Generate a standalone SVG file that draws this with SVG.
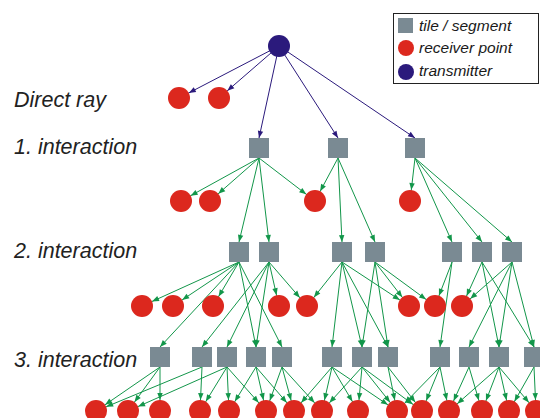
<svg xmlns="http://www.w3.org/2000/svg" width="540" height="418" viewBox="0 0 540 418">
<defs>
<style>
line{stroke-width:1}
.pc,.ps{stroke:#2b1a7c}
.gc,.gs{stroke:#12964a}
.pc{marker-end:url(#mpc)}
.ps{marker-end:url(#mps)}
.gc{marker-end:url(#mgc)}
.gs{marker-end:url(#mgs)}
.tile{fill:#7a8a93}
.rx{fill:#dc281e}
.tx{fill:#2b1a7c}
.lbl{font-family:"Liberation Sans",Arial,sans-serif;font-style:italic;font-size:21.5px;fill:#222}
.leg{font-family:"Liberation Sans",Arial,sans-serif;font-style:italic;font-size:15.5px;fill:#1a1a1a}
</style>
<marker id="mpc" markerUnits="userSpaceOnUse" markerWidth="20" markerHeight="20" refX="11" refY="0" orient="auto" overflow="visible"><path d="M0,0 L-7,-2.7 L-7,2.7 z" fill="#2b1a7c"/></marker>
<marker id="mps" markerUnits="userSpaceOnUse" markerWidth="20" markerHeight="20" refX="0" refY="0" orient="auto" overflow="visible"><path d="M0,0 L-7,-2.7 L-7,2.7 z" fill="#2b1a7c"/></marker>
<marker id="mgc" markerUnits="userSpaceOnUse" markerWidth="20" markerHeight="20" refX="11" refY="0" orient="auto" overflow="visible"><path d="M0,0 L-7,-2.7 L-7,2.7 z" fill="#12964a"/></marker>
<marker id="mgs" markerUnits="userSpaceOnUse" markerWidth="20" markerHeight="20" refX="0" refY="0" orient="auto" overflow="visible"><path d="M0,0 L-7,-2.7 L-7,2.7 z" fill="#12964a"/></marker>
</defs>
<rect width="540" height="418" fill="#fff"/>
<g id="labels">
<text class="lbl" x="14" y="107">Direct ray</text>
<text class="lbl" x="14" y="154">1. interaction</text>
<text class="lbl" x="14" y="258">2. interaction</text>
<text class="lbl" x="14" y="367">3. interaction</text>
</g>
<g id="legend">
<rect x="393.5" y="13.5" width="145" height="70" fill="#fff" stroke="#222" stroke-width="1"/>
<rect class="tile" x="398" y="18" width="15" height="15"/>
<circle class="rx" cx="406" cy="48" r="8"/>
<circle class="tx" cx="406" cy="72" r="8"/>
<text class="leg" x="419" y="31">tile / segment</text>
<text class="leg" x="419" y="53">receiver point</text>
<text class="leg" x="419" y="76">transmitter</text>
</g>
<g id="connectors">
<line class="pc" x1="279" y1="46" x2="179" y2="98"/>
<line class="pc" x1="279" y1="46" x2="219" y2="98"/>
<line class="ps" x1="279" y1="46" x2="259" y2="138"/>
<line class="ps" x1="279" y1="46" x2="338" y2="138"/>
<line class="ps" x1="279" y1="46" x2="415" y2="138"/>
<line class="gc" x1="259" y1="158" x2="181" y2="201"/>
<line class="gc" x1="259" y1="158" x2="210" y2="201"/>
<line class="gc" x1="259" y1="158" x2="315" y2="201"/>
<line class="gc" x1="338" y1="158" x2="315" y2="201"/>
<line class="gc" x1="415" y1="158" x2="410" y2="201"/>
<line class="gs" x1="259" y1="158" x2="239" y2="242"/>
<line class="gs" x1="259" y1="158" x2="269" y2="242"/>
<line class="gs" x1="338" y1="158" x2="342" y2="242"/>
<line class="gs" x1="338" y1="158" x2="375" y2="242"/>
<line class="gs" x1="415" y1="158" x2="452" y2="242"/>
<line class="gs" x1="415" y1="158" x2="482" y2="242"/>
<line class="gs" x1="415" y1="158" x2="512" y2="242"/>
<line class="gc" x1="239" y1="262" x2="142" y2="306"/>
<line class="gc" x1="239" y1="262" x2="173" y2="306"/>
<line class="gc" x1="239" y1="262" x2="213" y2="306"/>
<line class="gc" x1="269" y1="262" x2="279" y2="306"/>
<line class="gc" x1="269" y1="262" x2="307" y2="306"/>
<line class="gc" x1="342" y1="262" x2="307" y2="306"/>
<line class="gc" x1="342" y1="262" x2="409" y2="306"/>
<line class="gc" x1="375" y1="262" x2="409" y2="306"/>
<line class="gc" x1="375" y1="262" x2="435" y2="306"/>
<line class="gc" x1="452" y1="262" x2="435" y2="306"/>
<line class="gc" x1="482" y1="262" x2="462" y2="306"/>
<line class="gc" x1="512" y1="262" x2="462" y2="306"/>
<line class="gs" x1="239" y1="262" x2="160" y2="347"/>
<line class="gs" x1="239" y1="262" x2="256" y2="347"/>
<line class="gs" x1="239" y1="262" x2="282" y2="347"/>
<line class="gs" x1="269" y1="262" x2="202" y2="347"/>
<line class="gs" x1="269" y1="262" x2="227" y2="347"/>
<line class="gs" x1="269" y1="262" x2="256" y2="347"/>
<line class="gs" x1="342" y1="262" x2="332" y2="347"/>
<line class="gs" x1="342" y1="262" x2="362" y2="347"/>
<line class="gs" x1="342" y1="262" x2="388" y2="347"/>
<line class="gs" x1="375" y1="262" x2="362" y2="347"/>
<line class="gs" x1="375" y1="262" x2="388" y2="347"/>
<line class="gs" x1="452" y1="262" x2="440" y2="347"/>
<line class="gs" x1="482" y1="262" x2="499" y2="347"/>
<line class="gs" x1="482" y1="262" x2="534" y2="347"/>
<line class="gs" x1="512" y1="262" x2="469" y2="347"/>
<line class="gs" x1="512" y1="262" x2="499" y2="347"/>
<line class="gs" x1="512" y1="262" x2="534" y2="347"/>
<line class="gc" x1="160" y1="367" x2="96" y2="411"/>
<line class="gc" x1="160" y1="367" x2="128" y2="411"/>
<line class="gc" x1="160" y1="367" x2="160" y2="411"/>
<line class="gc" x1="202" y1="367" x2="96" y2="411"/>
<line class="gc" x1="202" y1="367" x2="200" y2="411"/>
<line class="gc" x1="227" y1="367" x2="128" y2="411"/>
<line class="gc" x1="227" y1="367" x2="200" y2="411"/>
<line class="gc" x1="227" y1="367" x2="229" y2="411"/>
<line class="gc" x1="227" y1="367" x2="266" y2="411"/>
<line class="gc" x1="256" y1="367" x2="229" y2="411"/>
<line class="gc" x1="256" y1="367" x2="266" y2="411"/>
<line class="gc" x1="256" y1="367" x2="294" y2="411"/>
<line class="gc" x1="282" y1="367" x2="266" y2="411"/>
<line class="gc" x1="282" y1="367" x2="294" y2="411"/>
<line class="gc" x1="282" y1="367" x2="322" y2="411"/>
<line class="gc" x1="332" y1="367" x2="294" y2="411"/>
<line class="gc" x1="332" y1="367" x2="322" y2="411"/>
<line class="gc" x1="332" y1="367" x2="358" y2="411"/>
<line class="gc" x1="332" y1="367" x2="397" y2="411"/>
<line class="gc" x1="362" y1="367" x2="322" y2="411"/>
<line class="gc" x1="362" y1="367" x2="358" y2="411"/>
<line class="gc" x1="362" y1="367" x2="397" y2="411"/>
<line class="gc" x1="362" y1="367" x2="422" y2="411"/>
<line class="gc" x1="388" y1="367" x2="397" y2="411"/>
<line class="gc" x1="388" y1="367" x2="422" y2="411"/>
<line class="gc" x1="440" y1="367" x2="397" y2="411"/>
<line class="gc" x1="440" y1="367" x2="422" y2="411"/>
<line class="gc" x1="440" y1="367" x2="449" y2="411"/>
<line class="gc" x1="469" y1="367" x2="449" y2="411"/>
<line class="gc" x1="469" y1="367" x2="482" y2="411"/>
<line class="gc" x1="499" y1="367" x2="449" y2="411"/>
<line class="gc" x1="499" y1="367" x2="482" y2="411"/>
<line class="gc" x1="499" y1="367" x2="509" y2="411"/>
<line class="gc" x1="499" y1="367" x2="536" y2="411"/>
<line class="gc" x1="534" y1="367" x2="509" y2="411"/>
<line class="gc" x1="534" y1="367" x2="536" y2="411"/>
</g>
<g id="transmitter"><circle class="tx" cx="279" cy="46" r="11"/></g>
<g id="direct-rx"><circle class="rx" cx="179" cy="98" r="11"/><circle class="rx" cx="219" cy="98" r="11"/></g>
<g id="tiles-1"><rect class="tile" x="249" y="138" width="20" height="20"/><rect class="tile" x="328" y="138" width="20" height="20"/><rect class="tile" x="405" y="138" width="20" height="20"/></g>
<g id="rx-1"><circle class="rx" cx="181" cy="201" r="11"/><circle class="rx" cx="210" cy="201" r="11"/><circle class="rx" cx="315" cy="201" r="11"/><circle class="rx" cx="410" cy="201" r="11"/></g>
<g id="tiles-2"><rect class="tile" x="229" y="242" width="20" height="20"/><rect class="tile" x="259" y="242" width="20" height="20"/><rect class="tile" x="332" y="242" width="20" height="20"/><rect class="tile" x="365" y="242" width="20" height="20"/><rect class="tile" x="442" y="242" width="20" height="20"/><rect class="tile" x="472" y="242" width="20" height="20"/><rect class="tile" x="502" y="242" width="20" height="20"/></g>
<g id="rx-2"><circle class="rx" cx="142" cy="306" r="11"/><circle class="rx" cx="173" cy="306" r="11"/><circle class="rx" cx="213" cy="306" r="11"/><circle class="rx" cx="279" cy="306" r="11"/><circle class="rx" cx="307" cy="306" r="11"/><circle class="rx" cx="409" cy="306" r="11"/><circle class="rx" cx="435" cy="306" r="11"/><circle class="rx" cx="462" cy="306" r="11"/></g>
<g id="tiles-3"><rect class="tile" x="150" y="347" width="20" height="20"/><rect class="tile" x="192" y="347" width="20" height="20"/><rect class="tile" x="217" y="347" width="20" height="20"/><rect class="tile" x="246" y="347" width="20" height="20"/><rect class="tile" x="272" y="347" width="20" height="20"/><rect class="tile" x="322" y="347" width="20" height="20"/><rect class="tile" x="352" y="347" width="20" height="20"/><rect class="tile" x="378" y="347" width="20" height="20"/><rect class="tile" x="430" y="347" width="20" height="20"/><rect class="tile" x="459" y="347" width="20" height="20"/><rect class="tile" x="489" y="347" width="20" height="20"/><rect class="tile" x="524" y="347" width="20" height="20"/></g>
<g id="rx-3"><circle class="rx" cx="96" cy="411" r="11"/><circle class="rx" cx="128" cy="411" r="11"/><circle class="rx" cx="160" cy="411" r="11"/><circle class="rx" cx="200" cy="411" r="11"/><circle class="rx" cx="229" cy="411" r="11"/><circle class="rx" cx="266" cy="411" r="11"/><circle class="rx" cx="294" cy="411" r="11"/><circle class="rx" cx="322" cy="411" r="11"/><circle class="rx" cx="358" cy="411" r="11"/><circle class="rx" cx="397" cy="411" r="11"/><circle class="rx" cx="422" cy="411" r="11"/><circle class="rx" cx="449" cy="411" r="11"/><circle class="rx" cx="482" cy="411" r="11"/><circle class="rx" cx="509" cy="411" r="11"/><circle class="rx" cx="536" cy="411" r="11"/></g>
</svg>
